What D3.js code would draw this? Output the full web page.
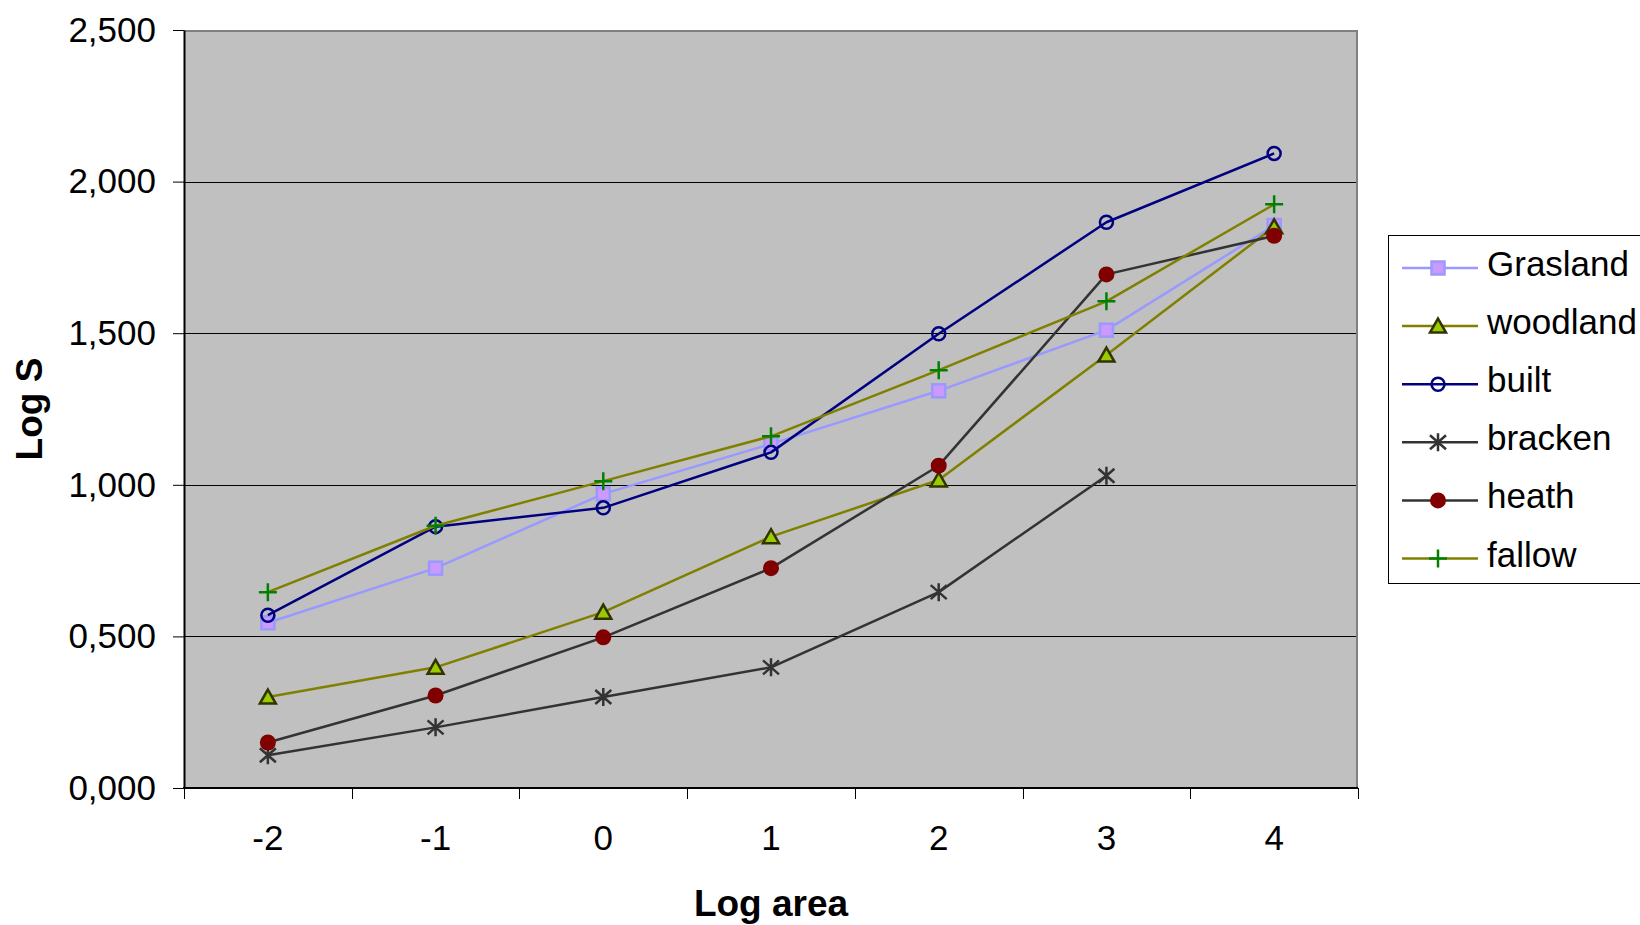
<!DOCTYPE html>
<html>
<head>
<meta charset="utf-8">
<script src="https://cdn.jsdelivr.net/npm/d3@7"></script>
<style>
  html, body { margin: 0; padding: 0; background: #ffffff; }
  svg { display: block; font-family: Arial, "Liberation Sans", sans-serif; }
</style>
</head>
<body>
<svg id="chart" width="1640" height="925"></svg>
<script>
// Species–area curves per land-cover type
const categories = ["-2", "-1", "0", "1", "2", "3", "4"];
const grasland = [0.545, 0.725, 0.970, 1.135, 1.310, 1.510, 1.855];
const woodland = [0.300, 0.398, 0.580, 0.829, 1.016, 1.428, 1.851];
const built    = [0.570, 0.862, 0.924, 1.107, 1.498, 1.866, 2.093];
const bracken  = [0.108, 0.200, 0.300, 0.398, 0.646, 1.030, null];
const heath    = [0.150, 0.305, 0.497, 0.725, 1.063, 1.694, 1.821];
const fallow   = [0.646, 0.865, 1.012, 1.160, 1.378, 1.605, 1.925];
const yTicks   = [0, 0.5, 1, 1.5, 2, 2.5];

const series = [
  { name: "Grasland", values: grasland, line: "#9999ff", marker: "square",   fill: "#cc99ff", stroke: "#9999ff" },
  { name: "woodland", values: woodland, line: "#808000", marker: "triangle", fill: "#99cc00", stroke: "#333300" },
  { name: "built",    values: built,    line: "#000080", marker: "ring",     fill: "none",    stroke: "#000080" },
  { name: "bracken",  values: bracken,  line: "#333333", marker: "star",     fill: "none",    stroke: "#333333" },
  { name: "heath",    values: heath,    line: "#333333", marker: "dot",      fill: "#800000", stroke: "#800000" },
  { name: "fallow",   values: fallow,   line: "#808000", marker: "plus",     fill: "none",    stroke: "#008000" }
];

const plot = { left: 184, right: 1358, top: 30, bottom: 788 };
const svg = d3.select("#chart");

const x = d3.scaleBand().domain(categories).range([plot.left, plot.right]).padding(0);
const y = d3.scaleLinear().domain([0, 2.5]).range([plot.bottom, plot.top]);

const locale = d3.formatLocale({ decimal: ",", thousands: ".", grouping: [3], currency: ["", ""] });
const fmt = locale.format(".3f");

// plot area
svg.append("rect")
  .attr("x", plot.left).attr("y", plot.top)
  .attr("width", plot.right - plot.left).attr("height", plot.bottom - plot.top)
  .attr("fill", "#c0c0c0");

// gridlines
svg.append("g").selectAll("line")
  .data(yTicks.filter(t => t > 0 && t < 2.5))
  .join("line")
  .attr("x1", plot.left).attr("x2", plot.right)
  .attr("y1", d => Math.round(y(d)) + 0.5).attr("y2", d => Math.round(y(d)) + 0.5)
  .attr("stroke", "#000").attr("stroke-width", 1);

// frame top and right
svg.append("path")
  .attr("d", `M${plot.left},${plot.top + 1}H${plot.right - 1}V${plot.bottom}`)
  .attr("fill", "none").attr("stroke", "#808080").attr("stroke-width", 2);

// y axis
const yAxis = d3.axisLeft(y).tickValues(yTicks).tickFormat(fmt).tickSizeInner(11).tickSizeOuter(0).tickPadding(17);
const gy = svg.append("g").attr("transform", `translate(${plot.left},0)`).call(yAxis);
gy.select(".domain").attr("stroke", "#000").attr("stroke-width", 2);
gy.selectAll(".tick line").attr("stroke", "#000").attr("stroke-width", 1);
gy.selectAll(".tick text").attr("font-size", 35).attr("fill", "#000")
  .attr("font-family", "Arial, 'Liberation Sans', sans-serif");

// x axis: category labels centred, tick marks on band boundaries
const gx = svg.append("g").attr("transform", `translate(0,${plot.bottom})`);
gx.append("line").attr("x1", plot.left - 1).attr("x2", plot.right)
  .attr("y1", 0).attr("y2", 0).attr("stroke", "#000").attr("stroke-width", 2);
const bounds = categories.map(c => x(c)).concat([x(categories[categories.length - 1]) + x.bandwidth()]);
gx.selectAll("line.tk").data(bounds).join("line").attr("class", "tk")
  .attr("x1", d => Math.round(d) + 0.5).attr("x2", d => Math.round(d) + 0.5)
  .attr("y1", 0).attr("y2", 11).attr("stroke", "#000").attr("stroke-width", 1);
gx.selectAll("text").data(categories).join("text")
  .attr("x", d => x(d) + x.bandwidth() / 2).attr("y", 62)
  .attr("text-anchor", "middle").attr("font-size", 35).attr("fill", "#000")
  .text(d => d);

// axis titles
svg.append("text").attr("x", (plot.left + plot.right) / 2).attr("y", 916)
  .attr("text-anchor", "middle").attr("font-size", 37).attr("font-weight", "bold").text("Log area");
svg.append("text").attr("transform", `translate(42,${(plot.top + plot.bottom) / 2}) rotate(-90)`)
  .attr("text-anchor", "middle").attr("font-size", 37).attr("font-weight", "bold").text("Log S");

// marker shapes
function drawMarker(g, s, cx, cy) {
  switch (s.marker) {
    case "square":
      g.append("rect").attr("x", cx - 6.5).attr("y", cy - 6.5).attr("width", 13).attr("height", 13)
        .attr("fill", s.fill).attr("stroke", s.stroke).attr("stroke-width", 2.5);
      break;
    case "triangle":
      g.append("path").attr("d", `M${cx},${cy - 7.5}L${cx + 8},${cy + 6.5}L${cx - 8},${cy + 6.5}Z`)
        .attr("fill", s.fill).attr("stroke", s.stroke).attr("stroke-width", 2.5).attr("stroke-linejoin", "miter");
      break;
    case "ring":
      g.append("circle").attr("cx", cx).attr("cy", cy).attr("r", 6.5)
        .attr("fill", "none").attr("stroke", s.stroke).attr("stroke-width", 2.5);
      break;
    case "dot":
      g.append("circle").attr("cx", cx).attr("cy", cy).attr("r", 8)
        .attr("fill", s.fill).attr("stroke", "none");
      break;
    case "star":
      g.append("path").attr("d",
        `M${cx},${cy - 9}V${cy + 9}M${cx - 8},${cy - 7}L${cx + 8},${cy + 7}M${cx - 8},${cy + 7}L${cx + 8},${cy - 7}`)
        .attr("fill", "none").attr("stroke", s.stroke).attr("stroke-width", 2.5);
      break;
    case "plus":
      g.append("path").attr("d", `M${cx - 9},${cy}H${cx + 9}M${cx},${cy - 9}V${cy + 9}`)
        .attr("fill", "none").attr("stroke", s.stroke).attr("stroke-width", 2.5);
      break;
  }
}

// series lines and markers
const line = d3.line()
  .defined(d => d.v !== null)
  .x(d => x(d.c) + x.bandwidth() / 2)
  .y(d => y(d.v));

series.forEach(s => {
  const pts = categories.map((c, i) => ({ c, v: s.values[i] }));
  const g = svg.append("g");
  g.append("path").datum(pts).attr("d", line)
    .attr("fill", "none").attr("stroke", s.line).attr("stroke-width", 2.5).attr("stroke-linejoin", "round");
  pts.filter(p => p.v !== null).forEach(p => drawMarker(g, s, x(p.c) + x.bandwidth() / 2, y(p.v)));
});

// legend
const legend = svg.append("g");
legend.append("rect").attr("x", 1388.5).attr("y", 235.5).attr("width", 280).attr("height", 348)
  .attr("fill", "#fff").attr("stroke", "#000").attr("stroke-width", 1);
series.forEach((s, i) => {
  const cy = 268 + i * 58.1;
  const g = legend.append("g");
  g.append("line").attr("x1", 1402).attr("x2", 1478).attr("y1", cy).attr("y2", cy)
    .attr("stroke", s.line).attr("stroke-width", 2.5);
  drawMarker(g, s, 1438, cy);
  g.append("text").attr("x", 1487).attr("y", cy + 8).attr("font-size", 35).attr("fill", "#000").text(s.name);
});
</script>
</body>
</html>
